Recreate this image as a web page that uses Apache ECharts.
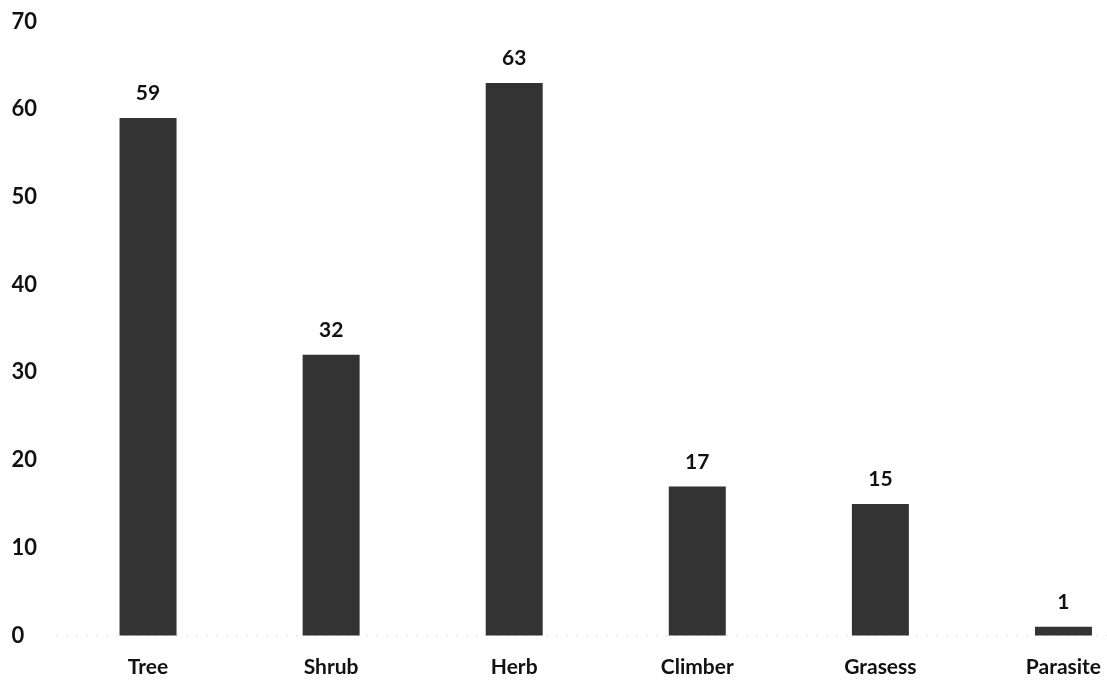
<!DOCTYPE html>
<html>
<head>
<meta charset="utf-8">
<script src="https://cdn.jsdelivr.net/npm/echarts@6/dist/echarts.min.js"></script>
<style>
html,body{margin:0;padding:0;background:#fff;}
#chart{width:1107px;height:681px;}
</style>
</head>
<body>
<div id="chart"></div>
<script>
var categories = ["Tree", "Shrub", "Herb", "Climber", "Grasess", "Parasite"];
var values = [59, 32, 63, 17, 15, 1];
var yTicks = [0, 10, 20, 30, 40, 50, 60, 70];

var chart = echarts.init(document.getElementById('chart'));
var font = 'Lato, "Open Sans", sans-serif';
chart.setOption({
  animation: false,
  backgroundColor: '#fff',
  grid: { left: 56.5, top: 21.5, width: 1098.5, bottom: 45.5, containLabel: false, outerBoundsMode: 'none' },
  xAxis: {
    type: 'category',
    data: categories,
    axisLine: { show: true, lineStyle: { color: '#dcdcdc', type: [1, 9], width: 1 } },
    axisTick: { show: false },
    axisLabel: { color: '#111', fontFamily: font, fontWeight: 'bold', fontSize: 21, margin: 21 }
  },
  yAxis: {
    type: 'value',
    min: yTicks[0],
    max: yTicks[yTicks.length - 1],
    interval: 10,
    axisLine: { show: false },
    axisTick: { show: false },
    splitLine: { show: false },
    axisLabel: { color: '#111', fontFamily: font, fontWeight: 'bold', fontSize: 22, align: 'left', margin: 45 }
  },
  series: [{
    type: 'bar',
    data: values,
    barWidth: 57,
    itemStyle: { color: '#333333' },
    label: { show: true, position: 'top', distance: 14, color: '#111', fontFamily: font, fontWeight: 'bold', fontSize: 21 }
  }]
});
</script>
</body>
</html>
